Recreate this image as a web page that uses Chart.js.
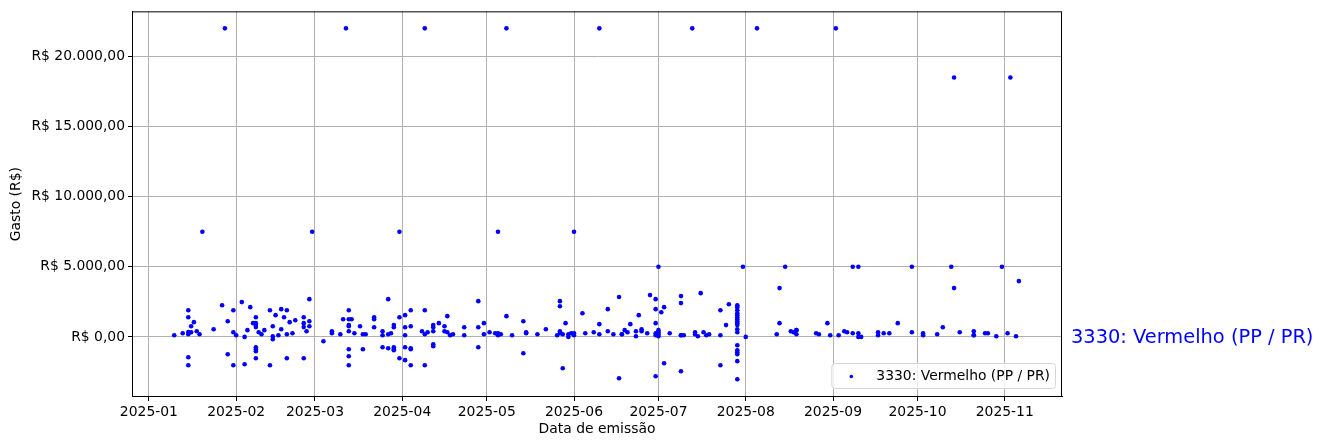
<!DOCTYPE html>
<html>
<head>
<meta charset="utf-8">
<script src="https://cdn.jsdelivr.net/npm/chart.js@4.4.0/dist/chart.umd.min.js"></script>
<style>
  html, body { margin: 0; padding: 0; background: #fff; }
</style>
</head>
<body>
<canvas id="grafico" width="1323" height="448"></canvas>
<script>
var serie = '3330: Vermelho (PP / PR)';

// datas de emissão (2025-MM-DD), uma linha por mês
var datas = [
  '01-10','01-13','01-15','01-15','01-15','01-15','01-15','01-15','01-16','01-16','01-17','01-18','01-19','01-20','01-24','01-27','01-28','01-29','01-29','01-31','01-31','01-31',
  '02-01','02-03','02-04','02-04','02-05','02-06','02-07','02-08','02-08','02-08','02-08','02-08','02-08','02-08','02-08','02-09','02-10','02-11','02-13','02-13','02-14','02-14','02-14','02-15','02-16','02-17','02-17','02-18','02-19','02-19','02-19','02-20','02-21','02-22','02-25','02-25','02-25','02-25','02-26','02-27','02-27','02-27','02-28',
  '03-04','03-07','03-07','03-10','03-11','03-12','03-13','03-13','03-13','03-13','03-13','03-13','03-13','03-13','03-14','03-15','03-17','03-18','03-18','03-19','03-22','03-22','03-22','03-25','03-25','03-25','03-27','03-27','03-27','03-28','03-29','03-29','03-29','03-29','03-29','03-31','03-31','03-31',
  '04-02','04-02','04-02','04-02','04-02','04-04','04-04','04-04','04-04','04-04','04-08','04-09','04-09','04-09','04-09','04-10','04-12','04-12','04-12','04-12','04-12','04-14','04-16','04-16','04-17','04-17','04-18','04-19','04-23','04-23','04-28','04-28','04-28','04-30','04-30',
  '05-02','05-04','05-05','05-05','05-05','05-06','05-08','05-08','05-10','05-14','05-14','05-15','05-15','05-19','05-22','05-26','05-27','05-27','05-27','05-27','05-28','05-28','05-29','05-30','05-30','05-31',
  '06-01','06-01','06-01','06-04','06-05','06-08','06-10','06-10','06-10','06-13','06-13','06-15','06-17','06-17','06-18','06-18','06-19','06-20','06-21','06-23','06-23','06-24','06-25','06-25','06-27','06-28','06-30','06-30','06-30','06-30','06-30','06-30',
  '07-01','07-01','07-01','07-01','07-01','07-02','07-03','07-03','07-05','07-09','07-09','07-09','07-09','07-09','07-10','07-13','07-14','07-14','07-15','07-16','07-17','07-18','07-19','07-23','07-23','07-23','07-25','07-26',
  '07-29','07-29','07-29','07-29','07-29','07-29','07-29','07-29','07-29','07-29','07-29','07-29','07-29','07-29','07-29','07-29','07-29','07-29','07-31',
  '08-01','08-05','08-12','08-13','08-13','08-15','08-17','08-18','08-19','08-19','08-19','08-26','08-27','08-30','08-31',
  '09-02','09-03','09-05','09-06','09-08','09-08','09-10','09-10','09-10','09-11','09-17','09-17','09-19','09-21','09-24','09-29','09-29',
  '10-03','10-03','10-08','10-10','10-13','10-14','10-14','10-16','10-21','10-21','10-21','10-25','10-26','10-29','10-31',
  '11-02','11-03','11-05','11-06'
];

// gasto (R$) de cada nota, mesma ordem
var gastos = [
  120,260,1900,1400,350,190,-1450,-2020,330,760,1050,400,190,7500,550,2260,22000,1120,-1240,1900,-2020,330,
  120,2480,0,-1950,480,2120,980,980,840,700,1400,-740,-880,-1020,-1520,330,190,480,1900,-2020,-160,760,50,1550,120,1980,550,1400,1900,-1520,190,1050,260,1190,1400,980,700,-1520,400,760,1120,2690,7500,
  -310,400,260,190,1260,22000,1900,1260,840,760,400,-880,-1380,-2020,1260,260,760,-880,190,190,1400,1260,690,400,-740,120,-810,190,2690,260,840,690,-740,-880,-950,7500,1400,-1520,
  1550,-1660,690,120,-740,1900,760,-810,-880,-2020,400,22000,1900,-2020,190,330,840,690,400,-520,-670,980,760,400,1480,330,120,190,690,120,2550,690,-740,980,190,
  330,260,260,120,7500,190,22000,1480,120,1120,-1170,330,260,190,550,120,2190,2550,400,260,-2240,190,980,0,190,260,
  7500,260,120,1690,260,330,910,22000,190,1980,400,190,2840,-2950,190,190,480,330,910,400,50,1550,550,400,260,2980,980,2690,260,-2810,1980,120,
  5000,480,330,190,50,1760,2120,-1880,260,2910,2410,120,120,-2450,120,22000,330,190,50,3120,330,120,190,120,1900,-2020,840,2330,
  2260,2120,1900,1690,1550,1400,1260,1120,980,840,550,330,-600,-950,-1090,-1240,-1730,-3020,5000,
  0,22000,190,3480,980,5000,400,330,480,190,480,260,190,980,120,
  22000,120,400,330,5000,260,5000,260,0,0,120,330,260,260,980,5000,330,
  260,120,190,690,5000,18500,3480,330,120,400,120,260,260,50,5000,
  260,18500,50,3980
];

var meses = ['2025-01-01','2025-02-01','2025-03-01','2025-04-01','2025-05-01','2025-06-01',
             '2025-07-01','2025-08-01','2025-09-01','2025-10-01','2025-11-01'];
var ticksY = [0, 5000, 10000, 15000, 20000];

function reais(v) {
  var p = Math.abs(v).toFixed(2).split('.');
  var inteiro = p[0].replace(/\B(?=(\d{3})+(?!\d))/g, '.');
  return 'R$ ' + (v < 0 ? '-' : '') + inteiro + ',' + p[1];
}

function mesAno(ms) {
  var d = new Date(ms);
  var m = d.getUTCMonth() + 1;
  return d.getUTCFullYear() + '-' + (m < 10 ? '0' + m : m);
}

var pontos = datas.map(function (d, i) {
  return { x: Date.parse('2025-' + d), y: gastos[i] };
});

// moldura, legenda e rótulo à direita
var extras = {
  id: 'extras',
  afterDatasetsDraw: function (chart) {
    var ctx = chart.ctx, a = chart.chartArea;
    ctx.save();
    ctx.strokeStyle = '#000';
    ctx.lineWidth = 1;
    ctx.strokeRect(a.left + 0.5, a.top + 0.5, a.right - a.left - 1, a.bottom - a.top - 1);

    // legenda
    ctx.font = '13.9px "DejaVu Sans"';
    var tw = ctx.measureText(serie).width;
    var bw = tw + 50, bh = 25;
    var bx = a.right - 7 - bw, by = a.bottom - 9 - bh;
    ctx.beginPath();
    ctx.roundRect(bx + 0.5, by + 0.5, bw, bh, 3);
    ctx.fillStyle = 'rgba(255,255,255,0.8)';
    ctx.fill();
    ctx.strokeStyle = '#d6d6d6';
    ctx.stroke();
    ctx.beginPath();
    ctx.arc(bx + 20, by + 13.5, 1.8, 0, Math.PI * 2);
    ctx.fillStyle = '#0000ff';
    ctx.fill();
    ctx.fillStyle = '#000';
    ctx.textBaseline = 'middle';
    ctx.textAlign = 'left';
    ctx.fillText(serie, bx + 45, by + 13);

    // rótulo da série fora do gráfico
    var y0 = chart.scales.y.getPixelForValue(0);
    ctx.font = '19.4px "DejaVu Sans"';
    ctx.fillStyle = '#0000ff';
    ctx.fillText(serie, a.right + 9, y0 + 1);
    ctx.restore();
  }
};

Chart.defaults.font.family = '"DejaVu Sans"';
Chart.defaults.font.size = 13.9;
Chart.defaults.color = '#000';

new Chart(document.getElementById('grafico').getContext('2d'), {
  type: 'scatter',
  data: {
    datasets: [{
      label: serie,
      data: pontos,
      backgroundColor: '#0000ff',
      borderWidth: 0,
      pointRadius: 2.3,
      pointHoverRadius: 2.3
    }]
  },
  options: {
    responsive: false,
    animation: false,
    layout: { padding: { top: 10, right: 261, bottom: 0, left: 0 } },
    plugins: { legend: { display: false }, tooltip: { enabled: false } },
    scales: {
      x: {
        type: 'linear',
        min: Date.parse('2024-12-26T00:00:00Z'),
        max: Date.parse('2025-11-21T08:00:00Z'),
        afterBuildTicks: function (s) { s.ticks = meses.map(function (m) { return { value: Date.parse(m) }; }); },
        afterFit: function (s) { s.height = 51; },
        ticks: { padding: 3, maxRotation: 0, autoSkip: false, callback: function (v) { return mesAno(v); } },
        grid: { color: '#b0b0b0', lineWidth: 1, tickLength: 4, tickColor: '#000' },
        border: { color: '#000', width: 1 },
        title: { display: true, text: 'Data de emissão', padding: { top: 0, bottom: 10 } }
      },
      y: {
        min: -4286,
        max: 23214,
        afterBuildTicks: function (s) { s.ticks = ticksY.map(function (v) { return { value: v }; }); },
        afterFit: function (s) { s.width = 132; },
        ticks: { padding: 3, callback: function (v) { return reais(v); } },
        grid: { color: '#b0b0b0', lineWidth: 1, tickLength: 4, tickColor: '#000' },
        border: { color: '#000', width: 1 },
        title: { display: true, text: 'Gasto (R$)', padding: { top: 8, bottom: 0 } }
      }
    }
  },
  plugins: [extras]
});
</script>
</body>
</html>
